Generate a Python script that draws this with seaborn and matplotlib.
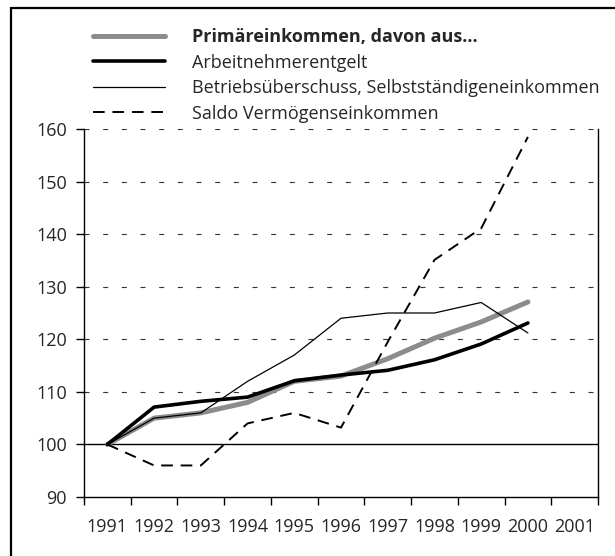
import pandas as pd
import matplotlib.pyplot as plt
import seaborn as sns
from matplotlib.patches import Rectangle

years = [1991, 1992, 1993, 1994, 1995, 1996, 1997, 1998, 1999, 2000]
primaer = [100, 105, 106, 108, 112, 113, 116.3, 120.2, 123.3, 127.1]
arbeitnehmer = [100, 107.1, 108.2, 109, 112.1, 113.2, 114.1, 116.1, 119.1, 123.1]
betrieb = [100, 105, 106, 112, 117, 124, 125, 125, 127, 121.2]
vermoegen = [100, 96, 96, 104, 106, 103.2, 119.5, 135.1, 141.1, 158.5]
tick_years = list(range(1991, 2002))
y_ticks = [90, 100, 110, 120, 130, 140, 150, 160]

labels = ['Primäreinkommen, davon aus...', 'Arbeitnehmerentgelt',
          'Betriebsüberschuss, Selbstständigeneinkommen', 'Saldo Vermögenseinkommen']

df = pd.DataFrame({'Jahr': years, labels[0]: primaer, labels[1]: arbeitnehmer,
                   labels[2]: betrieb, labels[3]: vermoegen})

sns.set_style('ticks')
plt.rcParams['font.family'] = ['Open Sans', 'DejaVu Sans']

fig = plt.figure(figsize=(6.15, 5.56), dpi=100)
ax = fig.add_axes([84 / 615, 59 / 556, 514 / 615, 368 / 556])

# gridlines first, so the series sit on top
for v in y_ticks[2:]:
    ax.axhline(v, color='#333333', lw=0.8, dashes=(4.5, 12.3), zorder=1)
ax.axhline(100, color='black', lw=1.0, zorder=1)

sns.lineplot(data=df, x='Jahr', y=labels[0], ax=ax, color='#8c8c8c', lw=3.6, label=labels[0], zorder=3)
sns.lineplot(data=df, x='Jahr', y=labels[1], ax=ax, color='black', lw=2.6, label=labels[1], zorder=4)
sns.lineplot(data=df, x='Jahr', y=labels[2], ax=ax, color='black', lw=0.9, label=labels[2], zorder=5)
sns.lineplot(data=df, x='Jahr', y=labels[3], ax=ax, color='black', lw=1.4, label=labels[3], zorder=5)
ax.lines[-1].set_dashes((6, 4))

ax.set_xlim(1990.5, 2001.5)
ax.set_ylim(90, 160)
ax.set_xlabel('')
ax.set_ylabel('')

# ticks at category boundaries, labels in between
ax.set_xticks([y - 0.5 for y in tick_years] + [2001.5])
ax.set_xticklabels([])
ax.set_xticks(tick_years, minor=True)
ax.set_xticklabels([str(y) for y in tick_years], minor=True)
ax.tick_params(axis='x', which='minor', length=0, pad=15, labelsize=13)
ax.tick_params(axis='x', which='major', length=5.8, width=1, color='black', direction='out')
ax.set_yticks(y_ticks)
ax.tick_params(axis='y', length=5.8, width=1, color='black', labelsize=13, pad=6.5)

ax.spines['top'].set_visible(False)
for s in ['left', 'right', 'bottom']:
    ax.spines[s].set_color('black')
    ax.spines[s].set_linewidth(1)

leg = ax.legend(loc='upper left', bbox_to_anchor=(93 / 615, 1 - 28 / 556), bbox_transform=fig.transFigure,
                frameon=False, fontsize=13, handlelength=4.0, handletextpad=1.5, labelspacing=0.42,
                borderpad=0, borderaxespad=0)
leg.get_texts()[0].set_fontweight('bold')
leg.get_lines()[3].set_dashes((6, 4))

fig.patches.append(Rectangle((11 / 615, -0.05), 1.2, 1 - 8 / 556 + 0.05, transform=fig.transFigure,
                             fill=False, edgecolor='black', lw=1.6))

fig.savefig('out.png', dpi=100)
